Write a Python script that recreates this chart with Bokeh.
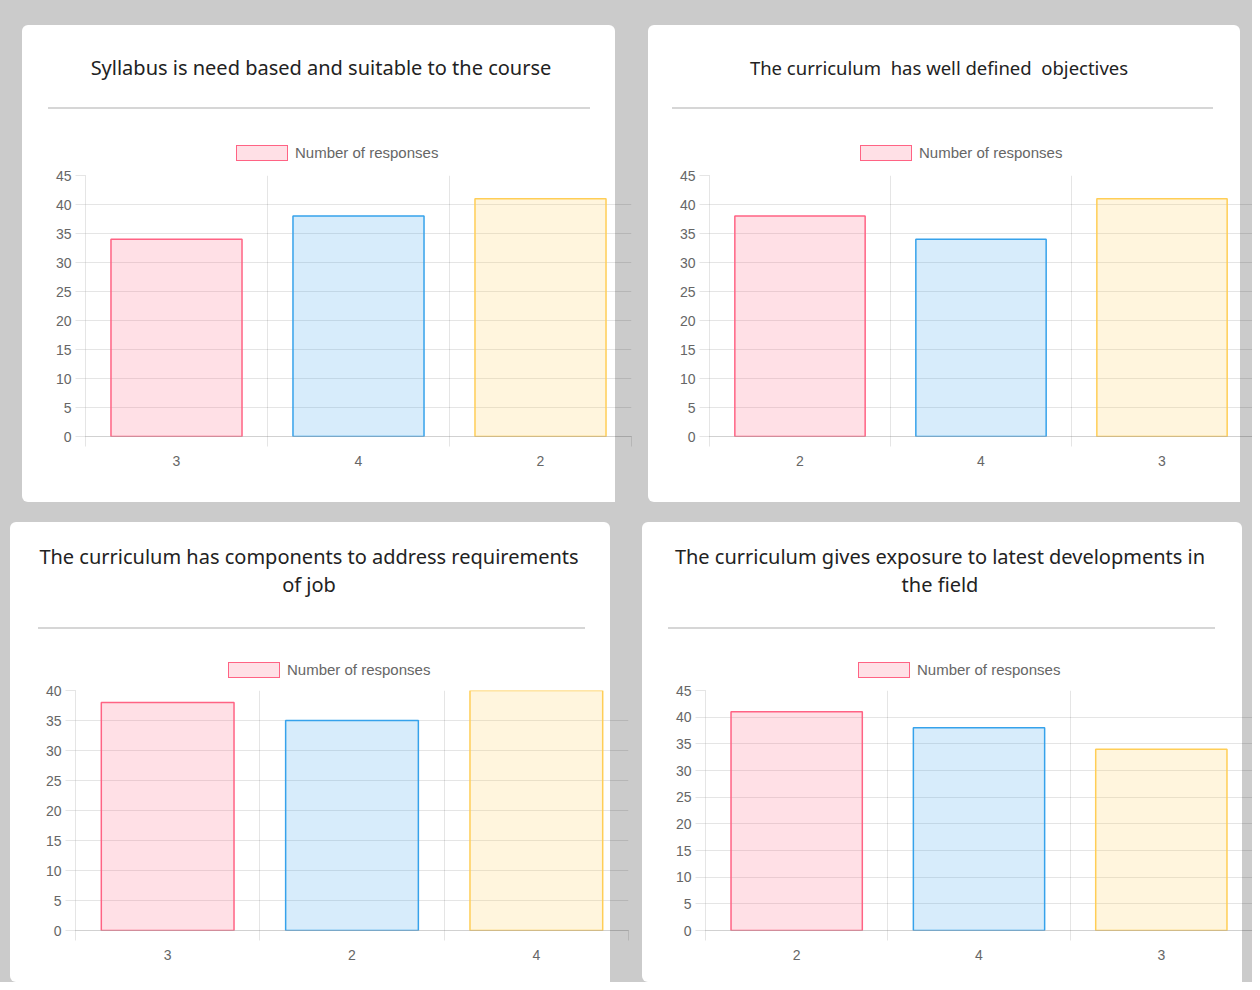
from bokeh.plotting import figure
from bokeh.models import (FactorRange, Range1d, FixedTicker, LinearAxis, Div, ColumnDataSource)
from bokeh.layouts import row, column
from bokeh.embed import file_html
from bokeh.resources import INLINE

# ---------------- data ----------------
series_label = "Number of responses"

title_lines_1 = ["Syllabus is need based and suitable to the course"]
categories_1 = ["3", "4", "2"]
values_1 = [34, 38, 41]
y_max_1 = 45

title_lines_2 = ["The curriculum  has well defined  objectives"]
categories_2 = ["2", "4", "3"]
values_2 = [38, 34, 41]
y_max_2 = 45

title_lines_3 = ["The curriculum has components to address requirements", "of job"]
categories_3 = ["3", "2", "4"]
values_3 = [38, 35, 40]
y_max_3 = 40

title_lines_4 = ["The curriculum gives exposure to latest developments in", "the field"]
categories_4 = ["2", "4", "3"]
values_4 = [41, 38, 34]
y_max_4 = 45

y_tick_step = 5

bar_fill = ["#ff638433", "#36a2eb33", "#ffce5633"]
bar_line = ["#ff6384", "#36a2eb", "#ffce56"]

TICK_FONT = "Liberation Sans"
TITLE_FONT = "Noto Sans"


def make_header(title_lines, g):
    cw, hh = g["cw"], g["head"]
    parts = [f'<div style="position:relative;width:{cw}px;height:{hh}px;background:#ffffff;'
             f'border-radius:6px 6px 0 0;overflow:hidden;">']
    for line, ty in zip(title_lines, g["title_y"]):
        parts.append(
            f'<div style="position:absolute;left:0;top:{ty - 14}px;width:{2 * g["title_x"]}px;'
            f'height:28px;line-height:28px;text-align:center;white-space:pre;'
            f'font-family:\'{TITLE_FONT}\';font-size:{g["tsize"]};color:#222222;">{line}</div>')
    r0, r1, ry = g["rule"]
    parts.append(f'<div style="position:absolute;left:{r0}px;top:{ry - 1}px;width:{r1 - r0}px;'
                 f'height:2px;background:#d6d6d6;"></div>')
    parts.append(
        f'<div style="position:absolute;left:{g["legend_x"]}px;top:{g["legend_y"] - 9}px;height:18px;'
        f'line-height:18px;white-space:nowrap;font-family:\'{TICK_FONT}\';font-size:15px;color:#666666;">'
        f'<span style="display:inline-block;box-sizing:border-box;width:52px;height:16px;'
        f'background:{bar_fill[0]};border:1.5px solid {bar_line[0]};vertical-align:middle;'
        f'margin-right:7px;"></span><span style="vertical-align:middle;">{series_label}</span></div>')
    parts.append('</div>')
    return Div(text="".join(parts), width=cw, height=hh, margin=0)


def make_card(title_lines, cats, vals, ymax, g):
    src = ColumnDataSource(dict(cat=cats, val=vals, fill=bar_fill[:len(cats)], line=bar_line[:len(cats)]))
    cw = g["cw"]
    p = figure(
        x_range=FactorRange(factors=cats, range_padding=0, factor_padding=0),
        y_range=Range1d(0, ymax),
        title=None,
        frame_width=g["fw"] - g["left"] - g["right"],
        frame_height=g["fh"],
        output_backend="svg", toolbar_location=None, tools="",
        min_border_left=g["left"], min_border_right=g["right"],
        min_border_top=10, min_border_bottom=g["bottom"],
        background_fill_alpha=0, border_fill_alpha=0, outline_line_color=None,
        margin=0,
        styles={"background": f"linear-gradient(to right, #ffffff {cw}px, rgba(0,0,0,0) {cw}px)",
                "border-radius": "0 0 0 6px"},
    )
    p.vbar(x="cat", top="val", width=0.72, source=src,
           fill_color="fill", line_color="line", line_width=1.5)

    yt = list(range(0, ymax + 1, y_tick_step))
    p.yaxis.ticker = FixedTicker(ticks=yt)
    p.ygrid.ticker = FixedTicker(ticks=yt)
    p.ygrid.grid_line_color = "black"
    p.ygrid.grid_line_alpha = 0.1
    ya = p.yaxis[0]
    ya.axis_line_color = "black"
    ya.axis_line_alpha = 0.1
    ya.major_tick_out = 10
    ya.major_tick_in = 0
    ya.major_tick_line_color = "black"
    ya.major_tick_line_alpha = 0.1
    ya.minor_tick_line_color = None
    ya.major_label_text_font = TICK_FONT
    ya.major_label_text_font_size = "14px"
    ya.major_label_text_color = "#666666"
    ya.major_label_standoff = 4

    edges = list(range(0, len(cats) + 1))
    p.xgrid.ticker = FixedTicker(ticks=edges)
    p.xgrid.grid_line_color = "black"
    p.xgrid.grid_line_alpha = 0.1

    ca = p.xaxis[0]
    ca.axis_line_color = None
    ca.major_tick_line_color = None
    ca.minor_tick_line_color = None
    ca.major_label_text_font = TICK_FONT
    ca.major_label_text_font_size = "14px"
    ca.major_label_text_color = "#666666"
    ca.major_label_standoff = g["xstand"]
    tick_axis = LinearAxis(ticker=FixedTicker(ticks=edges),
                           axis_line_color="black", axis_line_alpha=0.18,
                           major_tick_out=10, major_tick_in=0,
                           major_tick_line_color="black", major_tick_line_alpha=0.1,
                           minor_tick_line_color=None,
                           major_label_text_font_size="0px", major_label_text_alpha=0,
                           major_label_standoff=0)
    p.below = [tick_axis, ca]

    header = make_header(title_lines, g)
    return column(header, p, margin=g["margin"], spacing=0)


g1 = dict(fw=610, cw=593, left=63, right=1, head=140, fh=261, bottom=66, margin=(25, 0, 0, 22),
          title_x=299, title_y=[43], tsize="20px", rule=(26, 568, 83),
          legend_x=214, legend_y=127, xstand=3)
g2 = dict(fw=604, cw=592, left=61, right=0, head=140, fh=261, bottom=66, margin=(25, 0, 0, 16),
          title_x=291, title_y=[43], tsize="18.5px", rule=(24, 565, 83),
          legend_x=212, legend_y=127, xstand=3)
g3 = dict(fw=619, cw=600, left=65, right=1, head=158, fh=240, bottom=52, margin=(20, 0, 0, 10),
          title_x=299, title_y=[35, 63], tsize="20px", rule=(28, 575, 106),
          legend_x=218, legend_y=147, xstand=3)
g4 = dict(fw=610, cw=600, left=63, right=0, head=158, fh=240, bottom=52, margin=(20, 0, 0, 13),
          title_x=298, title_y=[35, 63], tsize="20px", rule=(26, 573, 106),
          legend_x=216, legend_y=147, xstand=3)

c1 = make_card(title_lines_1, categories_1, values_1, y_max_1, g1)
c2 = make_card(title_lines_2, categories_2, values_2, y_max_2, g2)
c3 = make_card(title_lines_3, categories_3, values_3, y_max_3, g3)
c4 = make_card(title_lines_4, categories_4, values_4, y_max_4, g4)

layout = column(row(c1, c2), row(c3, c4),
                styles={"background-color": "#cbcbcb"})

open("out.html", "w").write(file_html(layout, INLINE))
